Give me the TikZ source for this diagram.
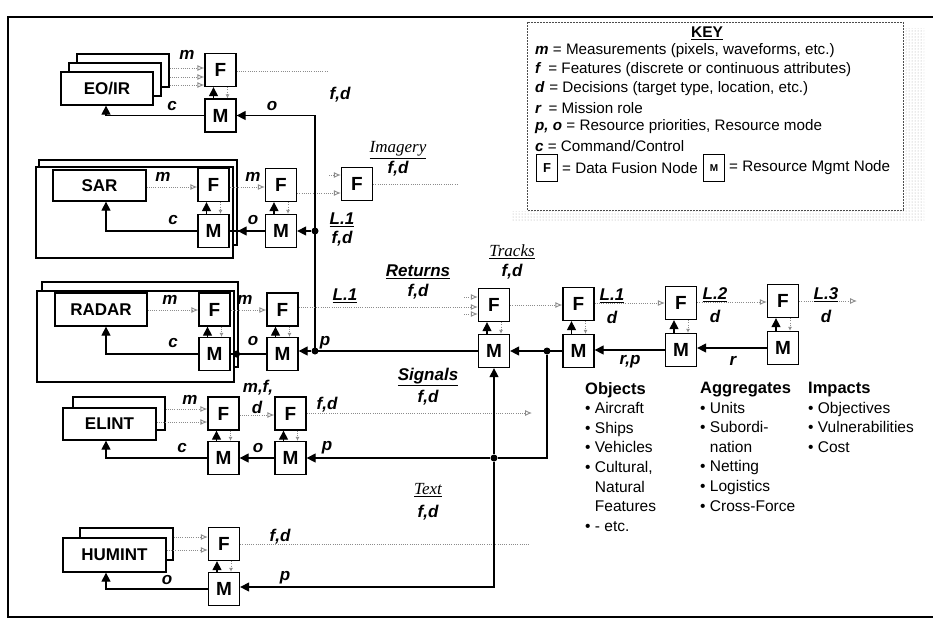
\documentclass[tikz,border=0pt]{standalone}
\usepackage{fontspec}
\setmainfont{Liberation Sans}
\newfontfamily\serifface{Liberation Serif}
\usetikzlibrary{arrows.meta,patterns}
\begin{document}
\begin{tikzpicture}[x=1pt,y=-1pt,
  fbox/.style={draw,line width=1.3pt,fill=white,minimum width=31pt,minimum height=33pt,inner sep=0pt,font=\fontsize{19}{19}\selectfont\bfseries},
  srcbox/.style={draw,line width=1.3pt,fill=white,inner sep=0pt,font=\fontsize{17}{17}\selectfont\bfseries},
  encl/.style={draw,line width=1.3pt,fill=white,inner sep=0pt},
  ctl/.style={line width=1.3pt,-{Triangle[length=9pt,width=9pt]}},
  wire/.style={line width=1.3pt},
  flow/.style={draw=black!45,line width=0.9pt,dash pattern=on 1pt off 1.2pt,-{Latex[open,length=7pt,width=6pt]}},
  flowline/.style={draw=black!45,line width=0.9pt,dash pattern=on 1pt off 1.2pt},
  lbl/.style={font=\fontsize{17}{17}\selectfont\bfseries\itshape,inner sep=0pt},
  strm/.style={font=\fontsize{17}{17}\selectfont\serifface\itshape,inner sep=0pt},
  strmb/.style={font=\fontsize{17}{17}\selectfont\bfseries\itshape,inner sep=0pt},
  jdot/.style={circle,fill,inner sep=0pt,minimum size=7pt},
  keytxt/.style={font=\fontsize{15.2}{15.2}\selectfont,inner sep=0pt,anchor=west},
  keybox/.style={draw,line width=1pt,minimum width=21pt,minimum height=27pt,inner sep=0pt,font=\fontsize{13}{13}\selectfont\bfseries},
  listcol/.style={anchor=north west,inner sep=0pt,align=left,font=\fontsize{15.5}{19.6}\selectfont},
]
\useasboundingbox (0,0) rectangle (933,625);

% frame
\draw[line width=1.2pt] (933,17) -- (8,17) -- (8,617) -- (933,617);

% ---------- KEY ----------
\fill[pattern=dots,pattern color=black!35] (905,28) rectangle (924,220);
\fill[pattern=dots,pattern color=black!35] (512,211) rectangle (905,220);
\draw[black!70,line width=0.7pt,dash pattern=on 2pt off 1pt,fill=white] (527,22) rectangle (903,210);
\node[font=\fontsize{15.5}{15.5}\selectfont\bfseries,inner sep=0pt] (keyt) at (707,33) {\underline{KEY}};
\node[keytxt] (k1) at (535,51) {\textbf{\textit{m}} = Measurements (pixels, waveforms, etc.)};
\node[keytxt] (k2) at (535,70) {\textbf{\textit{f}}\hspace{0.45em}= Features (discrete or continuous attributes)};
\node[keytxt] (k3) at (535,89) {\textbf{\textit{d}}\hspace{0.3em}= Decisions (target type, location, etc.)};
\node[keytxt] (k4) at (535,108) {\textbf{\textit{r}}\hspace{0.45em}= Mission role};
\node[keytxt] (k5) at (535,127) {\textbf{\textit{p, o}} = Resource priorities, Resource mode};
\node[keytxt] (k6) at (535,146) {\textbf{\textit{c}} = Command/Control};
\node[keybox] (kF) at (547,168) {F};
\node[keytxt] (k7) at ([xshift=4pt]kF.east) {= Data Fusion Node};
\node[keybox,anchor=west,font=\fontsize{10}{10}\selectfont\bfseries] (kM) at ([xshift=5pt]k7.east) {M};
\node[keytxt] (k8) at ([xshift=4pt]kM.east) {= Resource Mgmt Node};

% ---------- EO/IR ----------
\node[encl,minimum width=92pt,minimum height=33pt] (eob2) at (123,70.5) {};
\node[encl,minimum width=92pt,minimum height=33pt] (eob1) at (115,79.5) {};
\node[srcbox,minimum width=92pt,minimum height=33pt] (eo) at (107,88.5) {EO/IR};
\node[fbox] (eoF) at (220.5,70) {F};
\node[fbox] (eoM) at (220.5,115.5) {M};
\foreach \yy in {68,77,85} \draw[flow] (eob2.east |- 0,\yy) -- (eoF.west |- 0,\yy);
\node[lbl] (eom) at (187,55) {m};
\draw[ctl] (eoM.west) -| (eo.south -| 106,0);
\node[lbl] (eoc) at (172,106) {c};
\node[lbl] (eoo) at (272,106) {o};
\coordinate (eoEnd) at (327,71);
\draw[flowline] (eoF.east |- eoEnd) -- (eoEnd);
\node[lbl] (eofd) at (340,95) {f,d};

% ---------- SAR ----------
\node[encl,minimum width=198pt,minimum height=85pt] (sarb) at (138,202.5) {};
\node[encl,minimum width=197pt,minimum height=91pt] (sarf) at (134.5,212.5) {};
\node[srcbox,minimum width=93pt,minimum height=31pt] (sar) at (99.5,185.5) {SAR};
\node[fbox] (sarF1) at (213.5,185) {F};
\node[fbox] (sarM1) at (213.5,231) {M};
\node[fbox] (sarF2) at (281,185) {F};
\node[fbox] (sarM2) at (281,231) {M};
\draw[flow] (sar.east |- 0,187) -- (sarF1.west |- 0,187);
\draw[flow] (sarF1.east |- 0,187) -- (sarF2.west |- 0,187);
\node[lbl] (sarm1) at (163,177) {m};
\node[lbl] (sarm2) at (253,177) {m};
\draw[ctl] (sarM1.west) -| (sar.south -| 106,0);
\node[lbl] (sarc) at (173,220) {c};
\draw[wire] (sarM2.west) -- (sarM1.east);
\draw[ctl] (sarM2.west) -- (sarb.east |- sarM2.west);
\node[lbl] (saro) at (253,220) {o};

% imagery fusion
\node[fbox] (imF) at (357,184) {F};
\draw[flow] (sarF2.east |- 0,193) -- (imF.west |- 0,193);
\coordinate (imIn) at (329,175);
\draw[flow] (imIn) -- (imF.west |- imIn);
\coordinate (imEnd) at (458,184);
\draw[flowline] (imF.east) -- (imEnd);
\node[strm] (imlab) at (398,150) {\underline{Imagery}};
\node[lbl] (imfd) at (398,169) {f,d};

% ---------- RADAR ----------
\node[encl,minimum width=196pt,minimum height=85pt] (radb) at (140,324.5) {};
\node[encl,minimum width=197pt,minimum height=91pt] (radf) at (135.5,336.5) {};
\node[srcbox,minimum width=92pt,minimum height=33pt] (rad) at (101,309.5) {RADAR};
\node[fbox] (radF1) at (214.5,309.5) {F};
\node[fbox] (radM1) at (214.5,354) {M};
\node[fbox] (radF2) at (282.5,309.5) {F};
\node[fbox] (radM2) at (282.5,354) {M};
\draw[flow] (rad.east |- 0,310) -- (radF1.west |- 0,310);
\draw[flow] (radF1.east |- 0,310) -- (radF2.west |- 0,310);
\node[lbl] (radm1) at (170,300) {m};
\node[lbl] (radm2) at (245,300) {m};
\draw[ctl] (radM1.west) -| (rad.south -| 106,0);
\node[lbl] (radc) at (173,343) {c};
\draw[wire] (radM2.west) -- (radM1.east);
\node[jdot] (radj) at (236.5,354) {};
\node[lbl] (rado) at (253,341) {o};

% ---------- trunk ----------
\node[jdot] (j1) at (315,231) {};
\node[jdot] (j2) at (315,351) {};
\node[fbox] (tF) at (494,305) {F};
\node[fbox] (tM) at (494,351) {M};
\draw[ctl] (tM.west) -- (j2.center) -- (315,115.5) -- (eoM.east);
\draw[ctl] (j1) -- (sarM2.east |- j1);
\draw[ctl] (j2) -- (radM2.east |- j2);
\node[lbl] (trp) at (325,343) {p};
\node[lbl] (sarl1) at (342,220) {\underline{L.1}};
\node[lbl] (sarfd) at (342,239) {f,d};

% ---------- tracks & higher levels ----------
\draw[flow] (radF2.east |- 0,307) -- (tF.west |- 0,307);
\coordinate (tIn1) at (464,297);
\coordinate (tIn2) at (464,314);
\draw[flow] (tIn1) -- (tF.west |- tIn1);
\draw[flow] (tIn2) -- (tF.west |- tIn2);
\node[lbl] (radl1) at (345,296) {\underline{L.1}};
\node[strmb] (retlab) at (418,272) {\underline{Returns}};
\node[lbl] (retfd) at (418,292) {f,d};
\node[strm] (trklab) at (512,252) {\underline{Tracks}};
\node[lbl] (trkfd) at (512,272) {f,d};

\node[fbox] (l1F) at (578.5,304) {F};
\node[fbox] (l1M) at (578.5,351) {M};
\node[fbox] (l2F) at (681,303) {F};
\node[fbox] (l2M) at (681,350) {M};
\node[fbox] (l3F) at (783,301) {F};
\node[fbox] (l3M) at (783,348) {M};
\draw[flow] (tF.east |- 0,305) -- (l1F.west |- 0,305);
\draw[flow] (l1F.east |- 0,303) -- (l2F.west |- 0,303);
\draw[flow] (l2F.east |- 0,302) -- (l3F.west |- 0,302);
\coordinate (l3End) at (857,301);
\draw[flow] (l3F.east) -- (l3End);
\node[lbl] (l1lab) at (612,296) {\underline{L.1}};
\node[lbl] (l1d) at (612,317) {d};
\node[lbl] (l2lab) at (715,295) {\underline{L.2}};
\node[lbl] (l2d) at (715,316) {d};
\node[lbl] (l3lab) at (826,295) {\underline{L.3}};
\node[lbl] (l3d) at (826,316) {d};
\draw[ctl] (l3M.west) -- (l2M.east |- l3M.west);
\draw[ctl] (l2M.west) -- (l1M.east |- l2M.west);
\node[jdot] (j3) at (547,351) {};
\draw[ctl] (l1M.west) -- (tM.east);
\node[lbl] (lr) at (733,361) {r};
\node[lbl] (lrp) at (630,362) {r,p};

% ---------- ELINT ----------
\node[encl,minimum width=92pt,minimum height=33pt] (elb) at (119,413.5) {};
\node[srcbox,minimum width=93pt,minimum height=32pt] (el) at (109.5,424) {ELINT};
\node[fbox] (eF1) at (223.5,413.5) {F};
\node[fbox] (eM1) at (223.5,458) {M};
\node[fbox] (eF2) at (290.5,413.5) {F};
\node[fbox] (eM2) at (290.5,458) {M};
\draw[flow] (elb.east |- 0,409) -- (eF1.west |- 0,409);
\draw[flow] (el.east |- 0,422) -- (eF1.west |- 0,422);
\node[lbl] (elm) at (190,400) {m};
\draw[flow] (eF1.east |- 0,415) -- (eF2.west |- 0,415);
\node[lbl] (elmf) at (258,388) {m,f,};
\node[lbl] (eld) at (257,407) {d};
\coordinate (eEnd) at (532,413);
\draw[flow] (eF2.east |- eEnd) -- (eEnd);
\node[lbl] (elfd) at (327,405) {f,d};
\node[strmb] (siglab) at (428,377) {\underline{Signals}};
\node[lbl] (sigfd) at (428,398) {f,d};
\draw[ctl] (eM1.west) -| (el.south -| 106,0);
\node[lbl] (elc) at (182,448) {c};
\draw[ctl] (eM2.west) -- (eM1.east);
\node[lbl] (elo) at (258,448) {o};
\node[jdot] (j4) at (494,458) {};
\draw[ctl] (j4) -- (eM2.east |- j4);
\node[lbl] (elp) at (327,448) {p};
\draw[wire] (j3) -- (j3 |- j4) -- (j4);
\draw[ctl] (j4) -- (tM.south);

% ---------- HUMINT ----------
\node[encl,minimum width=93pt,minimum height=32pt] (hub) at (126.5,544) {};
\node[srcbox,minimum width=103pt,minimum height=34pt] (hu) at (114.5,555) {HUMINT};
\node[fbox] (hF) at (224,544) {F};
\node[fbox] (hM) at (224,589) {M};
\draw[flow] (hub.east |- 0,537) -- (hF.west |- 0,537);
\draw[flow] (hu.east |- 0,550) -- (hF.west |- 0,550);
\coordinate (hEnd) at (530,544);
\draw[flowline] (hF.east) -- (hEnd);
\node[lbl] (hfd) at (280,537) {f,d};
\node[strm] (txtlab) at (428,490) {\underline{Text}};
\node[lbl] (txtfd) at (428,513) {f,d};
\draw[ctl] (hM.west) -| (hu.south -| 106,0);
\node[lbl] (ho) at (167,580) {o};
\draw[ctl] (j4) -- (j4 |- 0,587) -- (hM.east |- 0,587);
\node[lbl] (hp) at (285,578) {p};

% M -> F and F -> M links
\foreach \f/\m in {eoF/eoM,sarF1/sarM1,sarF2/sarM2,radF1/radM1,radF2/radM2,tF/tM,l1F/l1M,l2F/l2M,l3F/l3M,eF1/eM1,eF2/eM2,hF/hM} {
  \draw[ctl] ([xshift=-7pt]\m.north) -- ([xshift=-7pt]\f.south);
  \draw[flow,-{Latex[open,length=4pt,width=4pt]}] ([xshift=7pt]\f.south) -- ([xshift=7pt]\m.north);
}

% ---------- object lists ----------
\node[listcol] (objs) at (585,382) {{\fontsize{16.5}{19.6}\selectfont\bfseries Objects}\\
\textbullet\ Aircraft\\ \textbullet\ Ships\\ \textbullet\ Vehicles\\ \textbullet\ Cultural,\\
\phantom{\textbullet\ }Natural\\ \phantom{\textbullet\ }Features\\ \textbullet\ - etc.};
\node[listcol] (aggs) at (700,382) {{\fontsize{16.5}{19.6}\selectfont\bfseries Aggregates}\\
\textbullet\ Units\\ \textbullet\ Subordi-\\ \phantom{\textbullet\ }nation\\ \textbullet\ Netting\\
\textbullet\ Logistics\\ \textbullet\ Cross-Force};
\node[listcol] (imps) at (808,382) {{\fontsize{16.5}{19.6}\selectfont\bfseries Impacts}\\
\textbullet\ Objectives\\ \textbullet\ Vulnerabilities\\ \textbullet\ Cost};
\end{tikzpicture}
\end{document}
